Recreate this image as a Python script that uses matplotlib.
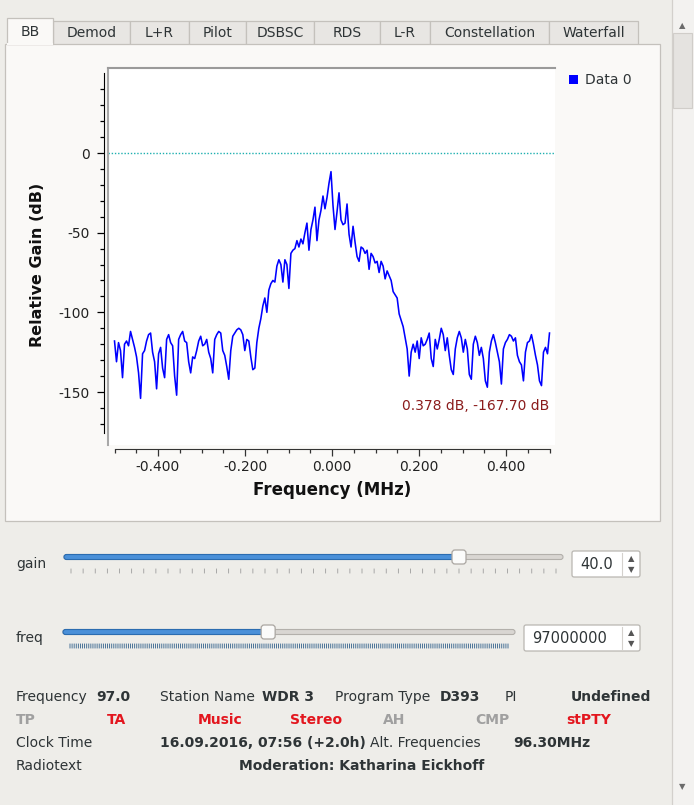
import numpy as np
import matplotlib.pyplot as plt
from matplotlib.patches import Rectangle, FancyBboxPatch
from matplotlib.lines import Line2D

plt.rcParams['font.family'] = 'DejaVu Sans'
plt.rcParams['axes.unicode_minus'] = False

# baseband spectrum (dB), bins spread evenly over the span
gain_db = [
    -118, -131, -119, -124, -141, -120, -118, -121, -112, -117,
    -122, -128, -138, -154, -126, -124, -118, -114, -113, -125,
    -131, -148, -126, -122, -135, -141, -117, -114, -119, -121,
    -140, -152, -117, -114, -112, -118, -119, -131, -138, -128,
    -129, -124, -118, -115, -121, -120, -117, -125, -129, -138,
    -117, -114, -112, -113, -124, -127, -134, -142, -124, -115,
    -113, -111, -110, -111, -114, -124, -117, -118, -128, -136,
    -135, -119,
    -110, -104, -96, -91, -100, -86, -82, -80, -81, -71,
    -67, -70, -81, -67, -70, -85, -63, -61, -60, -55,
    -59, -54, -57, -50, -44, -61, -48, -42, -34, -55,
    -42, -36, -27, -35, -28, -19, -11.7, -33, -48, -37,
    -25, -42, -45, -44, -32, -51, -59, -46, -56, -65,
    -68, -59, -60, -63, -61, -73, -63, -65, -69, -68,
    -75, -68, -71, -79, -74, -77, -80, -87, -89, -91,
    -101, -105, -109, -116,
    -123, -140, -125, -120, -125, -118, -129, -116, -121, -120,
    -117, -113, -129, -134, -117, -123, -117, -110, -114, -124,
    -116, -127, -136, -139, -123, -116, -112, -116, -125, -117,
    -123, -139, -142, -120, -115, -119, -127, -122, -129, -143,
    -147, -125, -118, -114, -119, -125, -131, -145, -123, -119,
    -117, -114, -115, -118, -116, -127, -131, -133, -143, -125,
    -119, -118, -114, -120, -127, -133, -143, -146, -125, -122,
    -126, -113,
]
span_mhz = (-0.5, 0.5)
freq_mhz = np.linspace(span_mhz[0], span_mhz[1], len(gain_db))

x_major = [-0.4, -0.2, 0.0, 0.2, 0.4]
x_labels = ['-0.400', '-0.200', '0.000', '0.200', '0.400']
y_major = [0, -50, -100, -150]
y_labels = ['0', '-50', '-100', '-150']
y_minor = [v for v in range(-170, 51, 10) if v % 50 != 0]
x_minor = [round(-0.5 + 0.05 * k, 2) for k in range(21)]
marker_text = '0.378 dB, -167.70 dB'
legend_name = 'Data 0'

tabs = ['BB', 'Demod', 'L+R', 'Pilot', 'DSBSC', 'RDS', 'L-R', 'Constellation', 'Waterfall']

gain_val, gain_min, gain_max = 40.0, 0.0, 50.0
freq_val, freq_min, freq_max = 97000000, 87500000, 108500000

BG = '#eeede9'
PANE = '#faf9f7'
BORDER = '#c4c1bc'
TXT = '#2e3436'
RED = '#e3161e'
GREY = '#a0a0a0'

fig = plt.figure(figsize=(6.94, 8.05), dpi=100)
fig.patch.set_facecolor(BG)

# whole window in pixel coords
ui = fig.add_axes([0, 0, 1, 1], zorder=0)
ui.set_xlim(0, 694)
ui.set_ylim(805, 0)
ui.axis('off')

# tabs
tab_edges = [7, 53, 130, 189, 246, 314, 380, 430, 549, 638]
for i, name in enumerate(tabs):
    x0, x1 = tab_edges[i], tab_edges[i + 1]
    if i == 0:
        continue
    ui.add_patch(Rectangle((x0, 21), x1 - x0, 24, fc='#e8e6e3', ec=BORDER, lw=0.9))
    ui.text((x0 + x1) / 2, 33, name, ha='center', va='center', fontsize=10, color=TXT)

# tab pane
ui.add_patch(Rectangle((5, 44), 655, 477, fc=PANE, ec=BORDER, lw=0.9))
ui.add_patch(Rectangle((tab_edges[0], 18), tab_edges[1] - tab_edges[0], 26.5, fc=PANE, ec=BORDER, lw=0.9))
ui.plot([tab_edges[0] + 0.6, tab_edges[1] - 0.6], [44, 44], color=PANE, lw=1.5)
ui.text((tab_edges[0] + tab_edges[1]) / 2, 32, tabs[0], ha='center', va='center', fontsize=10, color=TXT)

# legend
ui.add_patch(Rectangle((569.5, 75.5), 9, 9, fc='#0000ff', ec='none'))
ui.text(585, 80, legend_name, ha='left', va='center', fontsize=10, color=TXT)

# axis titles
ui.text(38, 265, 'Relative Gain (dB)', rotation=90, ha='center', va='center',
        fontsize=11.5, fontweight='bold', color='#111111')
ui.text(332, 490, 'Frequency (MHz)', ha='center', va='center',
        fontsize=12, fontweight='bold', color='#111111')

# plot canvas
cl, cr, ct, cb = 108, 555, 68, 445
ax = fig.add_axes([cl / 694, 1 - cb / 805, (cr - cl) / 694, (cb - ct) / 805], zorder=2)
ax.set_facecolor('white')
ax.plot(freq_mhz, gain_db, color='#0000ff', lw=1.15)
ax.axhline(0, color='#1fb0b0', lw=1.0, ls=(0, (1, 1.3)))

px_per_mhz = 435.0
px_per_db = 239.0 / 150.0
ax.set_xlim((cl - 332) / px_per_mhz, (cr - 332) / px_per_mhz)
ax.set_ylim((153 - cb) / px_per_db, (153 - ct) / px_per_db)

ax.spines['right'].set_visible(False)
ax.spines['top'].set_color('#9a9a9a')
ax.spines['top'].set_linewidth(1.5)
ax.spines['left'].set_position(('outward', 3))
ax.spines['left'].set_bounds(-176, 50)
ax.spines['bottom'].set_position(('outward', 3))
ax.spines['bottom'].set_bounds(span_mhz[0], span_mhz[1])
ax.spines['bottom'].set_color('#333333')
ax.add_line(Line2D([0, 0], [0, 1], transform=ax.transAxes, color='#a8a8a8', lw=1.5, clip_on=False))

ax.set_xticks(x_major)
ax.set_xticklabels(x_labels)
ax.set_xticks(x_minor, minor=True)
ax.set_yticks(y_major)
ax.set_yticklabels(y_labels)
ax.set_yticks(y_minor, minor=True)
ax.tick_params(axis='both', which='major', direction='out', length=5, width=0.9,
               labelsize=10, labelcolor='#222222')
ax.tick_params(axis='both', which='minor', direction='out', length=3, width=0.9)
ax.tick_params(axis='x', which='both', colors='#333333', pad=3)
ax.tick_params(axis='x', labelcolor='#222222')
ax.tick_params(axis='y', which='major', pad=5)

ax.text((549 - cl) / (cr - cl), 1 - (406 - ct) / (cb - ct), marker_text, transform=ax.transAxes,
        ha='right', va='center', fontsize=10, color='#8b1c1c')


# sliders
def slider(x0, x1, y, val, vmin, vmax, ticks, tick_color, tick_lw):
    frac = (val - vmin) / (vmax - vmin)
    xc = x0 + 7 + frac * (x1 - x0 - 14)
    ui.add_patch(FancyBboxPatch((x0, y - 2.5), x1 - x0, 5, boxstyle='round,pad=0,rounding_size=2.5',
                                fc='#d9d6d2', ec='#b3b0ab', lw=0.8))
    ui.add_patch(FancyBboxPatch((x0, y - 2.5), xc - x0, 5, boxstyle='round,pad=0,rounding_size=2.5',
                                fc='#4a90d9', ec='#2b6cb0', lw=0.8))
    for t in ticks:
        tx = x0 + 7 + (t - vmin) / (vmax - vmin) * (x1 - x0 - 14)
        ui.plot([tx, tx], [y + 12, y + 16], color=tick_color, lw=tick_lw, snap=False)
    ui.add_patch(FancyBboxPatch((xc - 7, y - 7), 14, 14, boxstyle='round,pad=0,rounding_size=3',
                                fc='#fbfbfa', ec='#aaa6a1', lw=0.9))


def spinbox(x0, x1, yc, text):
    ui.add_patch(FancyBboxPatch((x0, yc - 13), x1 - x0, 26, boxstyle='round,pad=0,rounding_size=2',
                                fc='white', ec='#b9b6b1', lw=0.9))
    ui.plot([x1 - 18, x1 - 18], [yc - 11, yc + 11], color='#d4d1cd', lw=0.8)
    ui.text(x0 + 8, yc, text, ha='left', va='center', fontsize=10.5, color=TXT)
    ui.text(x1 - 9, yc - 5, '\u25b2', ha='center', va='center', fontsize=6, color='#555555')
    ui.text(x1 - 9, yc + 6, '\u25bc', ha='center', va='center', fontsize=6, color='#555555')


ui.text(16, 564, 'gain', ha='left', va='center', fontsize=10, color=TXT)
slider(64, 563, 557, gain_val, gain_min, gain_max, np.arange(gain_min, gain_max + 0.01, 1.25), '#9c9c9c', 0.6)
spinbox(572, 640, 564, '%.1f' % gain_val)

ui.text(16, 638, 'freq', ha='left', va='center', fontsize=10, color=TXT)
slider(63, 515, 632, freq_val, freq_min, freq_max, np.arange(freq_min, freq_max + 1, 100000), '#2f5f8a', 0.6)
spinbox(524, 640, 638, '%d' % freq_val)

# RDS panel
def lab(x, y, s, bold=False, color=TXT):
    ui.text(x, y, s, ha='left', va='center', fontsize=10, color=color,
            fontweight='bold' if bold else 'normal')


lab(16, 697, 'Frequency')
lab(96, 697, '%.1f' % (freq_val / 1e6), True)
lab(160, 697, 'Station Name')
lab(262, 697, 'WDR 3', True)
lab(335, 697, 'Program Type')
lab(440, 697, 'D393', True)
lab(505, 697, 'PI')
lab(571, 697, 'Undefined', True)

lab(16, 720, 'TP', True, GREY)
lab(107, 720, 'TA', True, RED)
lab(198, 720, 'Music', True, RED)
lab(290, 720, 'Stereo', True, RED)
lab(383, 720, 'AH', True, GREY)
lab(475, 720, 'CMP', True, GREY)
lab(566, 720, 'stPTY', True, RED)

lab(16, 743, 'Clock Time')
lab(160, 743, '16.09.2016, 07:56 (+2.0h)', True)
lab(370, 743, 'Alt. Frequencies')
lab(513, 743, '96.30MHz', True)

lab(16, 766, 'Radiotext')
lab(239, 766, 'Moderation: Katharina Eickhoff', True)

# scrollbar
ui.add_patch(Rectangle((672, 0), 22, 805, fc='#f3f2f0', ec='none'))
ui.plot([672, 672], [0, 805], color='#d3d0cc', lw=0.9)
ui.add_patch(Rectangle((673.5, 33), 19, 75, fc='#e5e3e0', ec='#d0cdc9', lw=0.8))
ui.text(682, 26, '\u25b2', ha='center', va='center', fontsize=6, color='#6b6b6b')
ui.text(682, 787, '\u25bc', ha='center', va='center', fontsize=6, color='#6b6b6b')

fig.savefig('out.png', dpi=100, facecolor=fig.get_facecolor())
